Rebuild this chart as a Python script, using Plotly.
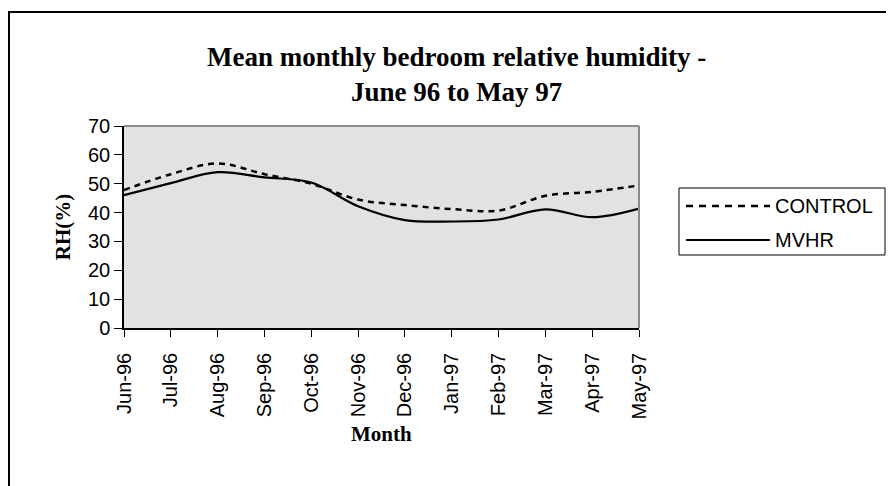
import plotly.graph_objects as go

# Data
MESES = ["Jun-96", "Jul-96", "Aug-96", "Sep-96", "Oct-96", "Nov-96",
         "Dec-96", "Jan-97", "Feb-97", "Mar-97", "Apr-97", "May-97"]
CONTROL = [47.8, 53.3, 57.0, 53.3, 50.0, 44.5, 42.6, 41.2, 40.7, 45.8, 47.2, 49.4]
MVHR = [46.0, 50.2, 54.0, 52.2, 50.4, 42.2, 37.4, 36.9, 37.6, 41.1, 38.4, 41.4]
Y_TICKS = [0, 10, 20, 30, 40, 50, 60, 70]

SERIF = "Liberation Serif, Times New Roman, serif"
SANS = "Liberation Sans, Arial, sans-serif"

fig = go.Figure()

fig.add_trace(go.Scatter(
    x=MESES, y=CONTROL, name="CONTROL", mode="lines",
    line={"color": "black", "width": 2.5, "dash": "6px,5px", "shape": "spline"},
))
fig.add_trace(go.Scatter(
    x=MESES, y=MVHR, name="MVHR", mode="lines",
    line={"color": "black", "width": 2.2, "shape": "spline"},
))

fig.update_layout(
    width=894, height=486,
    margin={"l": 116, "r": 263, "t": 118, "b": 166},
    paper_bgcolor="white",
    plot_bgcolor="#E2E2E2",
    showlegend=False,
    font={"family": SANS, "color": "black"},
)

fig.update_xaxes(
    type="category", range=[0, 11],
    tickangle=-90, tickfont={"family": SANS, "size": 20, "color": "black"},
    showgrid=False, zeroline=False,
    showline=True, linecolor="black", linewidth=1.5,
    ticks="outside", ticklen=7, tickcolor="black", tickwidth=1,
    ticklabelstandoff=8,
    automargin=False,
)
fig.update_yaxes(
    range=[0, 70], tickvals=Y_TICKS,
    tickfont={"family": SANS, "size": 20, "color": "black"},
    showgrid=False, zeroline=False,
    showline=True, linecolor="black", linewidth=1.5,
    ticks="outside", ticklen=8, tickcolor="black", tickwidth=1,
    automargin=False,
)

# Bordes gris superior y derecho del área de trazado
fig.add_shape(type="line", xref="paper", yref="paper", x0=0, x1=1, y0=1, y1=1,
              line={"color": "#8A8A8A", "width": 2})
fig.add_shape(type="line", xref="paper", yref="paper", x0=1, x1=1, y0=0, y1=1,
              line={"color": "#8A8A8A", "width": 2})

# Marco exterior del gráfico
fig.add_shape(type="rect", xref="paper", yref="paper",
              x0=-0.2233, x1=1.56, y0=-0.9, y1=1.564,
              line={"color": "black", "width": 2})

# Título y rótulos de ejes
fig.add_annotation(
    text="<b>Mean monthly bedroom relative humidity -<br>June 96 to May 97</b>",
    xref="paper", yref="paper", x=0.646, y=1.255,
    xanchor="center", yanchor="middle", showarrow=False,
    font={"family": SERIF, "size": 27, "color": "black"},
)
fig.add_annotation(
    text="<b>RH(%)</b>", xref="paper", yref="paper", x=-0.118, y=0.5,
    xanchor="center", yanchor="middle", textangle=-90, showarrow=False,
    font={"family": SERIF, "size": 21, "color": "black"},
)
fig.add_annotation(
    text="<b>Month</b>", xref="paper", yref="paper", x=0.5, y=-0.525,
    xanchor="center", yanchor="middle", showarrow=False,
    font={"family": SERIF, "size": 21, "color": "black"},
)

# Leyenda dibujada a mano (muestras de línea largas como en el original)
fig.add_shape(type="rect", xref="paper", yref="paper",
              x0=1.0777, x1=1.4777, y0=0.3614, y1=0.693,
              line={"color": "black", "width": 1}, fillcolor="white")
fig.add_shape(type="line", xref="paper", yref="paper",
              x0=1.0913, x1=1.2544, y0=0.604, y1=0.604,
              line={"color": "black", "width": 2.5, "dash": "7px,6px"})
fig.add_shape(type="line", xref="paper", yref="paper",
              x0=1.0913, x1=1.2544, y0=0.4356, y1=0.4356,
              line={"color": "black", "width": 2.2})
for etiqueta, y in [("CONTROL", 0.604), ("MVHR", 0.4356)]:
    fig.add_annotation(
        text=etiqueta, xref="paper", yref="paper", x=1.2602, y=y,
        xanchor="left", yanchor="middle", showarrow=False,
        font={"family": SANS, "size": 20, "color": "black"},
    )

fig.write_html("out.html")
